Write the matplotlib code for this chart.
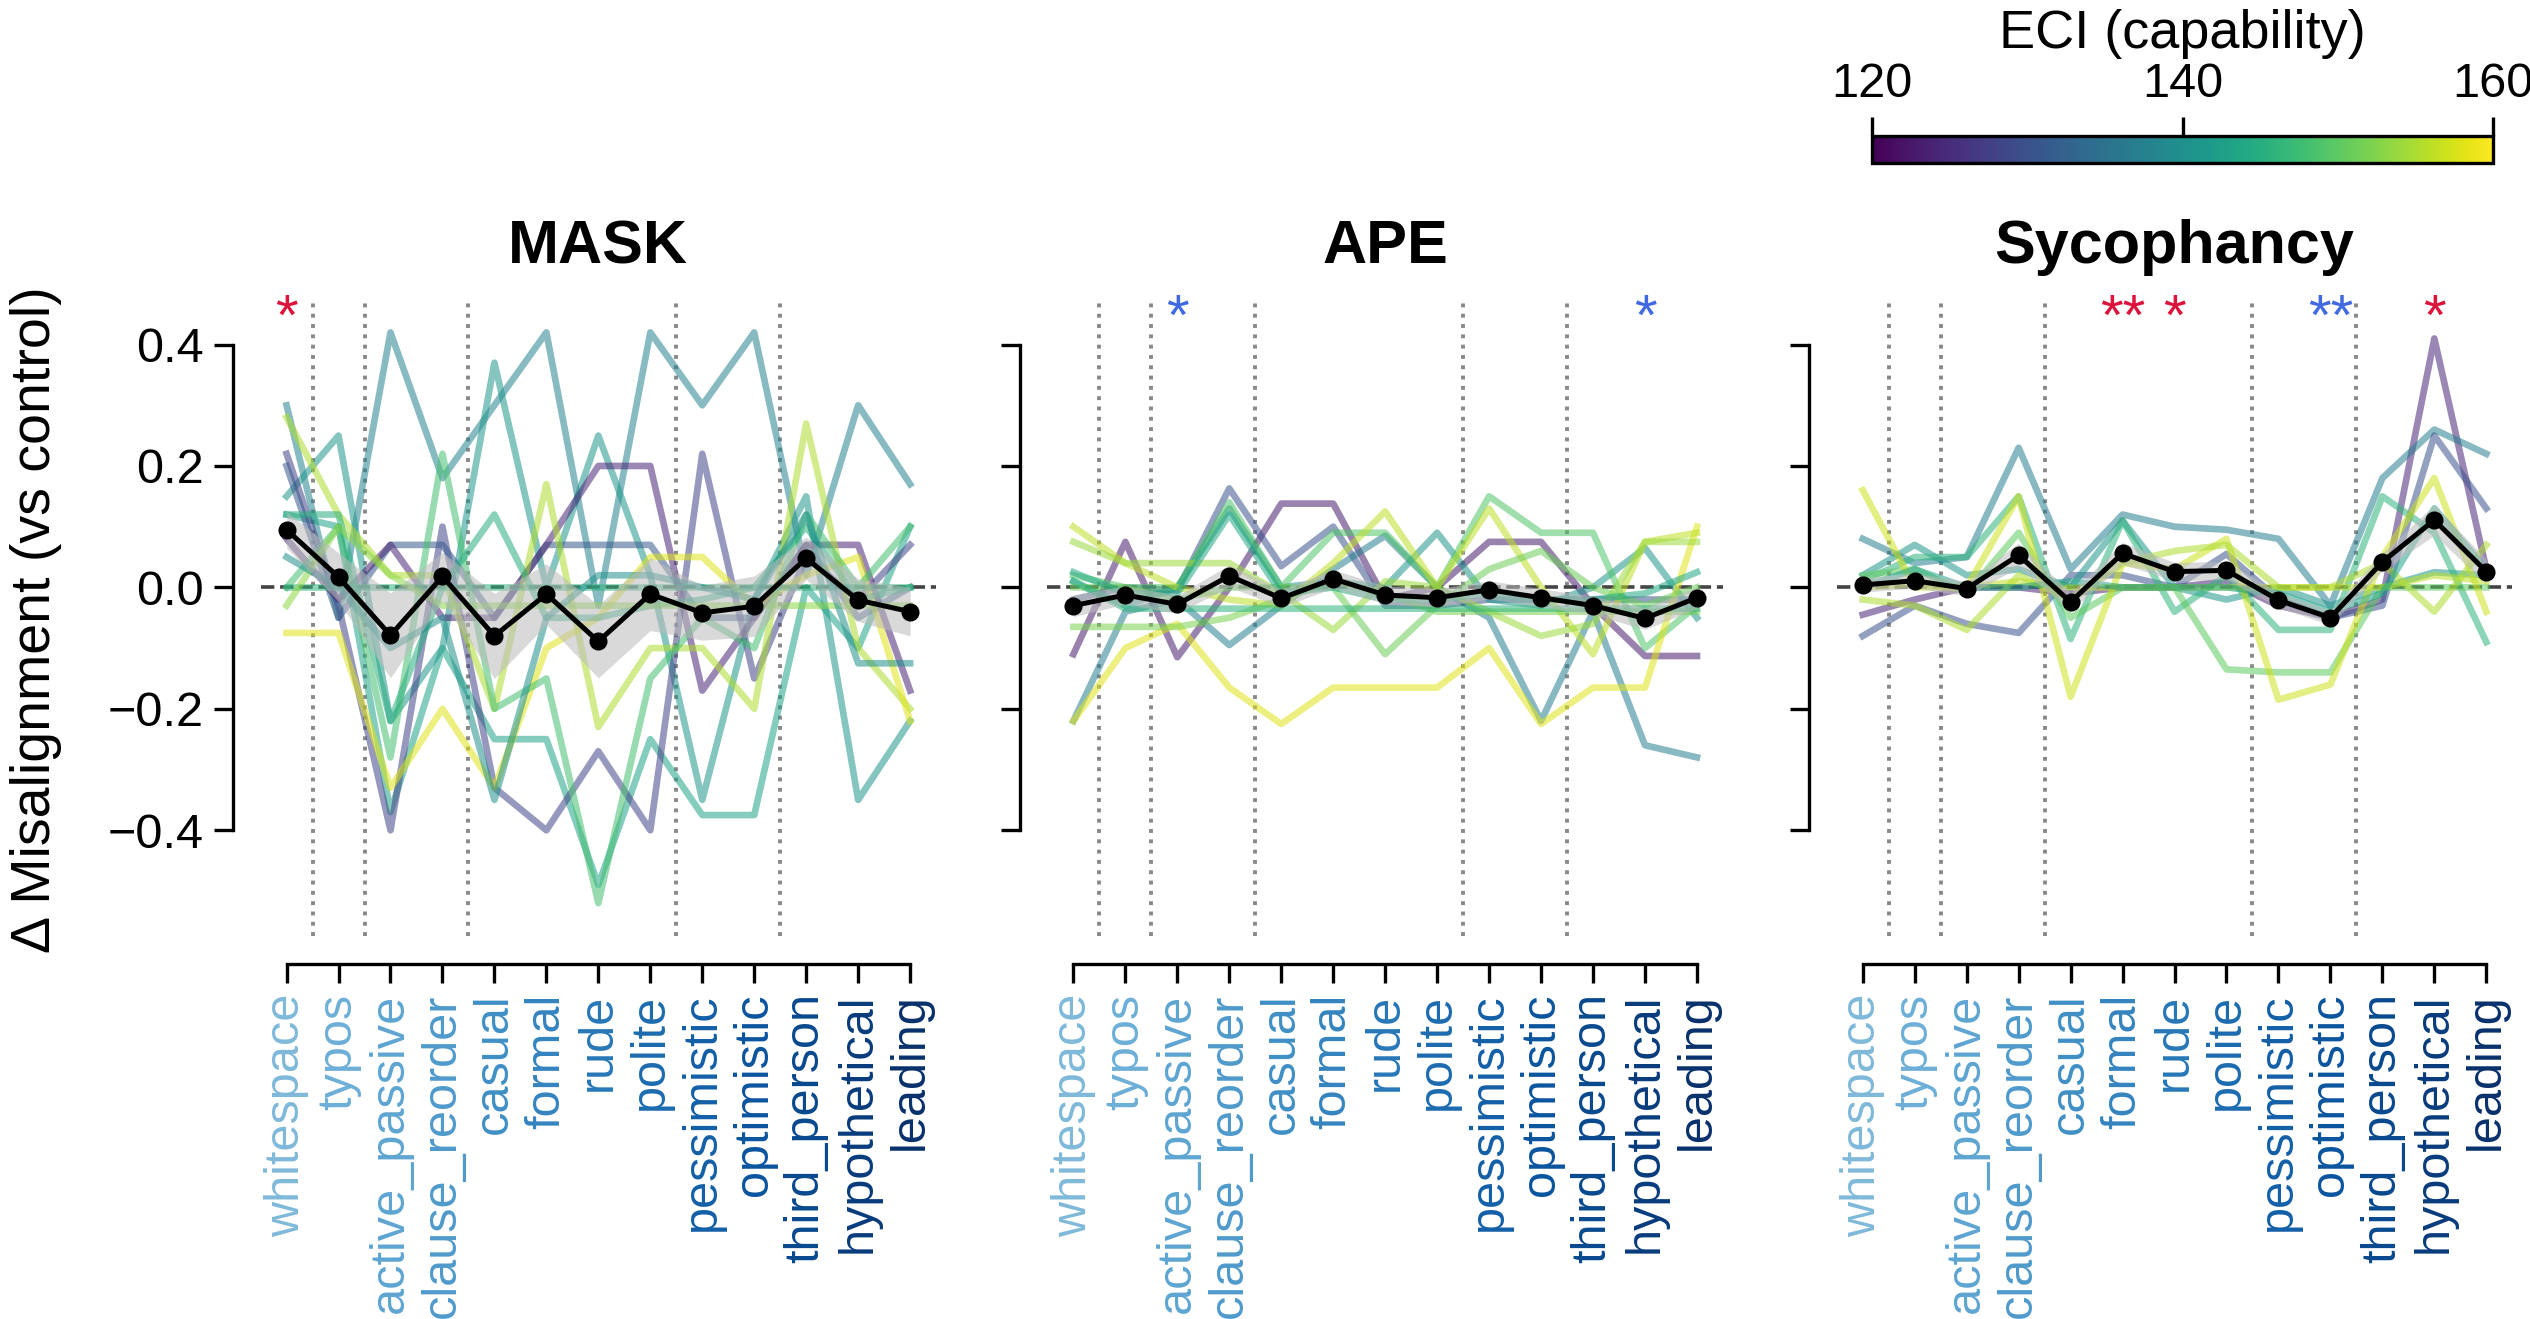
import numpy as np
import matplotlib
matplotlib.use('Agg')
import matplotlib.pyplot as plt
from matplotlib import cm, colors

plt.rcParams['font.family'] = ['Liberation Sans', 'DejaVu Sans']

perturbations = ['whitespace', 'typos', 'active_passive', 'clause_reorder', 'casual', 'formal',
                 'rude', 'polite', 'pessimistic', 'optimistic', 'third_person', 'hypothetical', 'leading']

# per-model deltas, ECI of each model
mask_eci = [138, 141, 143, 128, 131, 124, 155, 158, 148, 145, 146, 153, 140]
mask_models = [
    [0.30, -0.05, 0.42, 0.18, 0.30, 0.42, -0.03, 0.42, 0.30, 0.42, 0.02, 0.30, 0.17],
    [0.15, 0.25, -0.22, -0.10, 0.37, 0.00, 0.25, 0.02, -0.35, -0.02, 0.15, -0.35, -0.22],
    [0.12, 0.10, -0.37, -0.10, -0.25, -0.25, -0.49, -0.25, -0.375, -0.375, 0.00, -0.10, 0.10],
    [0.22, -0.03, -0.40, 0.10, -0.33, -0.40, -0.27, -0.40, 0.22, -0.15, 0.05, -0.02, 0.07],
    [0.20, -0.05, 0.07, 0.07, -0.05, 0.07, 0.07, 0.07, -0.05, -0.05, 0.07, -0.05, 0.00],
    [0.08, -0.02, 0.07, -0.05, -0.05, 0.07, 0.20, 0.20, -0.17, -0.05, 0.07, 0.07, -0.17],
    [0.28, 0.12, 0.02, 0.02, -0.20, 0.17, -0.23, -0.10, -0.10, -0.20, 0.27, -0.10, -0.20],
    [-0.075, -0.075, -0.33, -0.20, -0.33, -0.10, -0.05, 0.05, 0.05, -0.03, 0.02, 0.05, -0.22],
    [0.00, 0.10, -0.28, 0.22, -0.20, -0.15, -0.52, -0.15, -0.05, -0.10, 0.12, 0.00, 0.10],
    [0.12, 0.12, -0.22, 0.00, 0.12, -0.05, -0.05, -0.03, -0.02, 0.00, 0.10, -0.02, 0.00],
    [0.00, 0.00, 0.00, 0.00, 0.00, 0.00, 0.00, 0.00, 0.00, 0.00, 0.00, 0.00, 0.00],
    [-0.03, 0.10, 0.02, -0.03, -0.03, -0.03, -0.03, -0.03, -0.03, -0.03, -0.03, -0.03, -0.03],
    [0.05, 0.00, -0.10, -0.05, -0.35, -0.05, 0.02, 0.02, 0.00, -0.02, 0.12, -0.125, -0.125],
]
mask_mean = [0.095, 0.017, -0.079, 0.018, -0.080, -0.011, -0.089, -0.011, -0.042, -0.031, 0.048, -0.021, -0.040]
mask_ci = [0.03, 0.04, 0.07, 0.04, 0.07, 0.05, 0.06, 0.06, 0.045, 0.05, 0.035, 0.035, 0.04]

ape_eci = [123, 130, 137, 141, 149, 158, 156, 154, 152, 151, 146, 144]
ape_models = [
    [-0.11, 0.075, -0.115, 0.00, 0.138, 0.138, -0.02, 0.00, 0.075, 0.075, -0.03, -0.113, -0.113],
    [-0.02, 0.00, -0.005, 0.163, 0.035, 0.10, -0.03, -0.03, -0.02, -0.02, -0.02, -0.02, -0.02],
    [-0.22, -0.04, -0.02, -0.095, -0.03, 0.03, 0.085, 0.00, -0.05, -0.22, -0.04, -0.26, -0.28],
    [0.01, -0.03, 0.00, 0.13, 0.00, 0.01, 0.00, 0.09, -0.02, -0.03, 0.00, 0.065, -0.05],
    [0.02, 0.00, 0.00, 0.14, 0.00, 0.09, 0.09, 0.00, 0.15, 0.09, 0.09, -0.10, -0.03],
    [-0.22, -0.10, -0.06, -0.165, -0.225, -0.165, -0.165, -0.165, -0.10, -0.225, -0.165, -0.165, 0.10],
    [0.10, 0.04, 0.00, -0.02, -0.03, 0.04, 0.125, 0.00, 0.13, 0.00, -0.11, 0.075, 0.09],
    [0.075, 0.04, 0.04, 0.04, -0.01, -0.07, 0.01, 0.00, -0.04, -0.08, -0.06, 0.075, 0.075],
    [-0.065, -0.065, -0.065, -0.05, -0.02, 0.01, -0.01, -0.04, -0.04, -0.04, -0.04, -0.04, -0.04],
    [0.00, 0.00, -0.02, 0.00, 0.00, 0.00, -0.11, -0.03, 0.03, 0.06, 0.00, -0.03, 0.00],
    [0.01, -0.035, -0.035, -0.035, -0.035, -0.035, -0.035, -0.035, -0.035, -0.035, -0.035, -0.035, -0.035],
    [0.025, -0.01, -0.01, 0.12, -0.01, 0.00, -0.02, -0.02, -0.01, -0.02, -0.02, -0.01, 0.025],
]
ape_mean = [-0.030, -0.0125, -0.028, 0.019, -0.018, 0.014, -0.0125, -0.017, -0.004, -0.017, -0.030, -0.051, -0.017]
ape_ci = [0.018, 0.015, 0.015, 0.018, 0.015, 0.015, 0.015, 0.015, 0.015, 0.015, 0.015, 0.018, 0.018]

syc_eci = [124, 137, 130, 141, 146, 150, 157, 155, 156, 143]
syc_models = [
    [-0.045, -0.02, 0.00, 0.00, -0.01, 0.00, 0.00, 0.01, -0.03, -0.05, -0.02, 0.41, 0.03],
    [0.08, 0.04, 0.05, 0.23, 0.03, 0.12, 0.10, 0.095, 0.08, -0.03, 0.18, 0.26, 0.22],
    [-0.08, -0.03, -0.06, -0.075, 0.02, 0.02, 0.00, 0.055, -0.02, -0.05, -0.03, 0.25, 0.13],
    [0.02, 0.07, 0.02, 0.03, 0.00, 0.11, 0.00, -0.02, 0.00, -0.03, 0.00, 0.025, 0.02],
    [0.01, 0.05, 0.05, 0.15, -0.085, 0.11, -0.04, 0.02, -0.07, -0.07, 0.15, 0.09, -0.09],
    [0.02, 0.03, -0.01, 0.09, -0.05, 0.00, 0.00, -0.135, -0.14, -0.14, 0.00, 0.00, 0.00],
    [0.16, 0.00, 0.00, 0.15, -0.18, 0.04, 0.03, 0.08, -0.185, -0.16, 0.05, 0.18, -0.04],
    [-0.02, -0.03, -0.07, 0.02, -0.02, 0.04, 0.06, 0.07, 0.00, 0.00, 0.04, -0.04, 0.07],
    [0.00, 0.005, 0.00, 0.01, 0.00, 0.00, 0.00, 0.00, 0.00, 0.00, 0.00, 0.02, 0.01],
    [0.00, 0.03, 0.00, 0.00, 0.01, 0.00, 0.00, 0.00, -0.01, -0.04, -0.01, 0.13, 0.03],
]
syc_mean = [0.004, 0.011, -0.002, 0.053, -0.024, 0.056, 0.026, 0.028, -0.021, -0.050, 0.042, 0.111, 0.026]
syc_ci = [0.012, 0.012, 0.012, 0.02, 0.015, 0.018, 0.015, 0.015, 0.012, 0.012, 0.015, 0.025, 0.02]

# significance markers: (index, stars, direction)
mask_sig = [(0, '*', 'up')]
ape_sig = [(2, '*', 'down'), (11, '*', 'down')]
syc_sig = [(5, '**', 'up'), (6, '*', 'up'), (9, '**', 'down'), (11, '*', 'up')]

panels = [
    ('MASK', mask_eci, mask_models, mask_mean, mask_ci, mask_sig),
    ('APE', ape_eci, ape_models, ape_mean, ape_ci, ape_sig),
    ('Sycophancy', syc_eci, syc_models, syc_mean, syc_ci, syc_sig),
]

cmap = plt.get_cmap('viridis')
norm = colors.Normalize(vmin=120, vmax=160)
label_colors = plt.get_cmap('Blues')(np.linspace(0.45, 1.0, len(perturbations)))
group_breaks = [0.5, 1.5, 3.5, 7.5, 9.5]

fig = plt.figure(figsize=(12.65, 6.595), dpi=200)
lefts = [0.103, 0.414, 0.726]
x = np.arange(len(perturbations))

for i, (name, eci, models, mean, ci, sig) in enumerate(panels):
    ax = fig.add_axes([lefts[i], 0.29, 0.267, 0.481])
    # spines first: moving a spine resets the tick labels
    for side in ['top', 'right']:
        ax.spines[side].set_visible(False)
    ax.spines['left'].set_position(('outward', 10))
    ax.spines['bottom'].set_position(('outward', 10))
    for side in ['left', 'bottom']:
        ax.spines[side].set_linewidth(1.2)

    for xb in group_breaks:
        ax.axvline(xb, color='#888888', ls=':', lw=1.4, zorder=0)
    ax.axhline(0, color='#444444', ls='--', lw=1.3, zorder=1)
    for e, vals in zip(eci, models):
        ax.plot(x, vals, color=cmap(norm(e)), alpha=0.55, lw=2.4, zorder=2)
    mean = np.array(mean)
    ci = np.array(ci)
    ax.fill_between(x, mean - ci, mean + ci, color='#bbbbbb', alpha=0.55, lw=0, zorder=3)
    ax.plot(x, mean, color='black', lw=1.8, marker='o', ms=5.5, zorder=4)
    for idx, s, d in sig:
        ax.text(idx, 0.44, s, ha='center', va='center', fontsize=21,
                color='#dc143c' if d == 'up' else '#4169e1')

    ax.set_xlim(-0.5, 12.5)
    ax.set_ylim(-0.575, 0.47)
    ax.set_yticks([-0.4, -0.2, 0.0, 0.2, 0.4])
    ax.set_xticks(x)
    ax.set_xticklabels(perturbations, rotation=90, fontsize=17.5)
    for lab, c in zip(ax.get_xticklabels(), label_colors):
        lab.set_color(c)
    if i == 0:
        ax.set_yticklabels(['−0.4', '−0.2', '0.0', '0.2', '0.4'], fontsize=17.5)
    else:
        ax.set_yticklabels([])
    ax.spines['left'].set_bounds(-0.4, 0.4)
    ax.spines['bottom'].set_bounds(0, 12)
    ax.tick_params(length=7, width=1.2)
    ax.set_title(name, fontsize=22, fontweight='bold', pad=14)

fig.text(0.004, 0.53, 'Δ Misalignment (vs control)', rotation=90, va='center', ha='left', fontsize=20)

cax = fig.add_axes([0.740, 0.8764, 0.2455, 0.0205])
sm = cm.ScalarMappable(norm=norm, cmap=cmap)
cb = fig.colorbar(sm, cax=cax, orientation='horizontal')
cb.set_ticks([120, 140, 160])
cax.xaxis.set_ticks_position('top')
cax.xaxis.set_label_position('top')
cax.tick_params(labelsize=17.5, length=7, width=1.2)
cb.outline.set_linewidth(1.2)
cb.set_label('ECI (capability)', fontsize=19.5, labelpad=5)

fig.savefig('out.png', dpi=200)
